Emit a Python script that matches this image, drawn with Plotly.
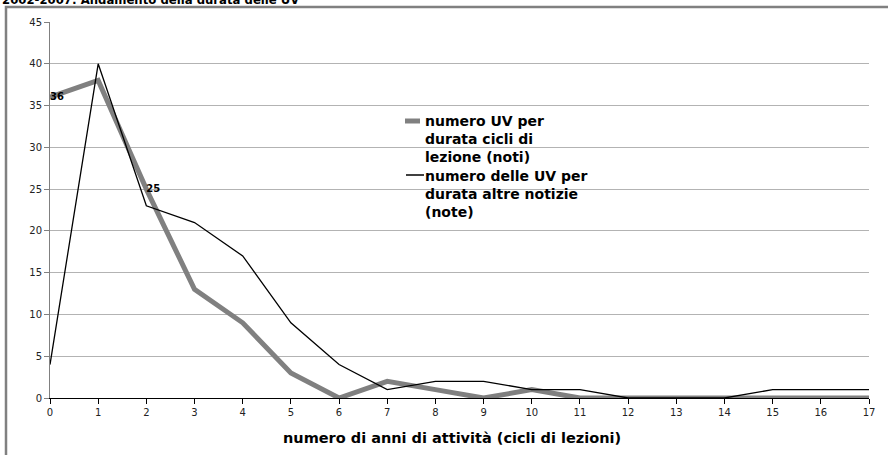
import plotly.graph_objects as go

# anni di attività (cicli di lezioni)
anni = list(range(0, 18))

# numero UV per durata cicli di lezione (noti)
uv_noti = [36, 38, 25, 13, 9, 3, 0, 2, 1, 0, 1, 0, 0, 0, 0, 0, 0, 0]

# numero delle UV per durata altre notizie (note)
uv_note = [4, 40, 23, 21, 17, 9, 4, 1, 2, 2, 1, 1, 0, 0, 0, 1, 1, 1]

# etichette visibili sulla serie grigia
etichette_noti = ["36", "", "25"] + [""] * 15

nome_noti = ["numero UV per", "durata cicli di", "lezione (noti)"]
nome_note = ["numero delle UV per", "durata altre notizie", "(note)"]

FONT = "DejaVu Sans"
W, H = 888, 455
L, R, T, B = 50, 19, 22, 57
pw, ph = W - L - R, H - T - B


def px_x(x):
    return (x - L) / pw


def px_y(y):
    return 1 - (y - T) / ph


fig = go.Figure()

fig.add_trace(
    go.Scatter(
        x=anni,
        y=uv_noti,
        mode="lines+text",
        text=etichette_noti,
        textposition="middle right",
        textfont=dict(family=FONT, size=10, color="black", weight="bold"),
        line=dict(color="#808080", width=5),
        name=" ".join(nome_noti),
        cliponaxis=False,
    )
)
fig.add_trace(
    go.Scatter(
        x=anni,
        y=uv_note,
        mode="lines",
        line=dict(color="black", width=1.3),
        name=" ".join(nome_note),
        cliponaxis=False,
    )
)

# legenda disegnata a mano
legenda = [
    (nome_noti, 121, 139, dict(color="#808080", width=5), 405, 420),
    (nome_note, 175, 194, dict(color="black", width=1.5), 406, 424),
]
for righe, y_sim, y_testo, stile, xa, xb in legenda:
    fig.add_shape(
        type="line",
        xref="paper",
        yref="paper",
        x0=px_x(xa),
        x1=px_x(xb),
        y0=px_y(y_sim),
        y1=px_y(y_sim),
        line=stile,
    )
    fig.add_annotation(
        text="<br>".join(righe),
        align="left",
        xref="paper",
        yref="paper",
        x=px_x(424),
        xanchor="left",
        y=px_y(y_testo),
        yanchor="middle",
        showarrow=False,
        borderpad=0,
        font=dict(family=FONT, size=14, color="black", weight="bold"),
    )

# cornice esterna del grafico (tagliata dalla finestra)
fig.add_shape(
    type="rect",
    xref="paper",
    yref="paper",
    x0=px_x(6),
    x1=px_x(W + 20),
    y0=px_y(H + 20),
    y1=px_y(7),
    line=dict(color="#808080", width=2.5),
)

# titolo, in parte fuori dall'immagine
fig.add_annotation(
    text="2002-2007: Andamento della durata delle UV",
    xref="paper",
    yref="paper",
    x=px_x(0),
    xanchor="left",
    y=px_y(0.5),
    yanchor="middle",
    showarrow=False,
    font=dict(family=FONT, size=11.7, color="black", weight="bold"),
)

# titolo asse x
fig.add_annotation(
    text="numero di anni di attività (cicli di lezioni)",
    xref="paper",
    yref="paper",
    x=px_x(452),
    xanchor="center",
    y=px_y(438),
    yanchor="middle",
    showarrow=False,
    font=dict(family=FONT, size=14.5, color="black", weight="bold"),
)

fig.update_layout(
    width=W,
    height=H,
    margin=dict(l=L, r=R, t=T, b=B),
    paper_bgcolor="white",
    plot_bgcolor="white",
    showlegend=False,
    font=dict(family=FONT, size=10, color="#222"),
    xaxis=dict(
        range=[0, 17],
        tickmode="linear",
        dtick=1,
        showgrid=False,
        showline=True,
        linecolor="black",
        linewidth=1,
        ticks="outside",
        ticklen=5,
        tickcolor="black",
        zeroline=False,
    ),
    yaxis=dict(
        range=[0, 45],
        tickmode="linear",
        dtick=5,
        showgrid=True,
        gridcolor="#b3b3b3",
        gridwidth=1,
        showline=True,
        linecolor="#808080",
        ticks="outside",
        ticklen=5,
        tickcolor="#808080",
        zeroline=False,
    ),
)

fig.write_html(
    "out.html",
    config={"displayModeBar": False},
    post_script="document.body.style.margin='0';",
)
